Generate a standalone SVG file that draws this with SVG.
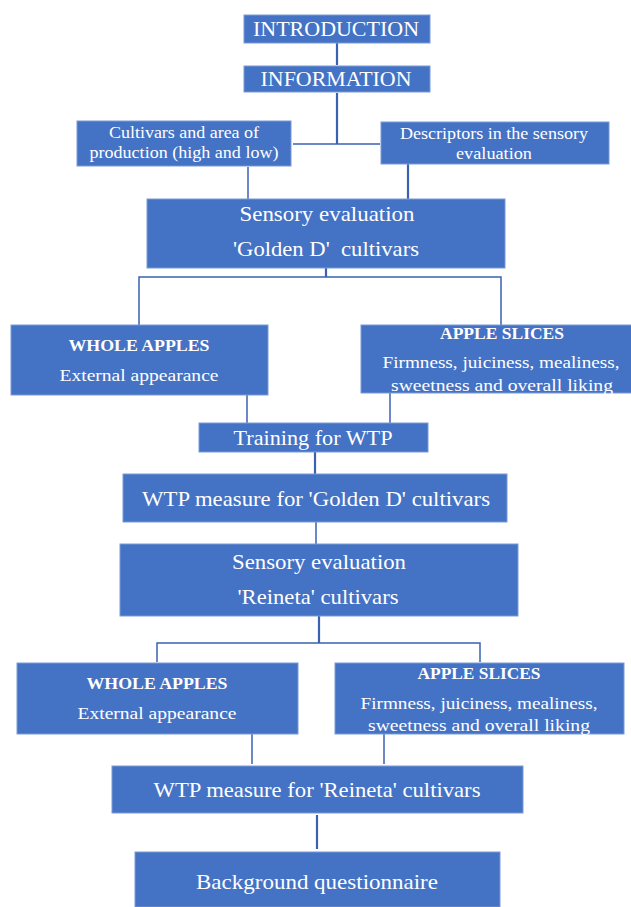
<svg xmlns="http://www.w3.org/2000/svg" width="631" height="907" viewBox="0 0 631 907">
<style>
.box{fill:#4472C4;stroke:#7B9BD6;stroke-width:1}
.t{font-family:"Liberation Serif","Times New Roman",serif;fill:#ffffff;text-anchor:middle}
.l{font-size:22px}
.s{font-size:16.5px}
.b{font-weight:bold}
.c{stroke:#3A62B0;stroke-width:1.5;fill:none}
.c2{stroke:#3A62B0;stroke-width:2.2;fill:none}
</style>
<rect width="631" height="907" fill="#ffffff"/>
<g id="connectors">
<line class="c2" x1="337" y1="43" x2="337" y2="65"/>
<line class="c2" x1="337" y1="93" x2="337" y2="144"/>
<line class="c" x1="293" y1="144" x2="380" y2="144"/>
<line class="c" x1="248" y1="167" x2="248" y2="199"/>
<line class="c2" x1="408" y1="164" x2="408" y2="199"/>
<line class="c2" x1="326" y1="268" x2="326" y2="277"/>
<polyline class="c" points="139,325 139,277 501,277 501,325"/>
<line class="c" x1="247" y1="395" x2="247" y2="423"/>
<line class="c" x1="390" y1="393" x2="390" y2="423"/>
<line class="c2" x1="315" y1="452" x2="315" y2="474"/>
<line class="c" x1="316" y1="522" x2="316" y2="544"/>
<line class="c2" x1="319" y1="616" x2="319" y2="643"/>
<polyline class="c" points="157,662 157,643 480,643 480,662"/>
<line class="c" x1="252" y1="734" x2="252" y2="764"/>
<line class="c" x1="384" y1="734" x2="384" y2="764"/>
<line class="c2" x1="317" y1="815" x2="317" y2="849"/>
</g>
<g id="introduction">
<rect class="box" x="244" y="15" width="186" height="28"/>
<text class="t l" x="336" y="36" textLength="166" lengthAdjust="spacingAndGlyphs">INTRODUCTION</text>
</g>
<g id="information">
<rect class="box" x="244" y="66" width="186" height="26"/>
<text class="t l" x="336" y="86" textLength="151" lengthAdjust="spacingAndGlyphs">INFORMATION</text>
</g>
<g id="cultivars">
<rect class="box" x="77" y="121" width="214" height="45"/>
<text class="t s" x="184" y="138" textLength="150" lengthAdjust="spacingAndGlyphs">Cultivars and area of</text>
<text class="t s" x="184" y="158" textLength="189" lengthAdjust="spacingAndGlyphs">production (high and low)</text>
</g>
<g id="descriptors">
<rect class="box" x="381" y="122" width="228" height="42"/>
<text class="t s" x="494" y="139" textLength="188" lengthAdjust="spacingAndGlyphs">Descriptors in the sensory</text>
<text class="t s" x="494" y="159" textLength="76" lengthAdjust="spacingAndGlyphs">evaluation</text>
</g>
<g id="sensory-golden">
<rect class="box" x="147" y="199" width="358" height="69"/>
<text class="t l" x="327" y="221" textLength="175" lengthAdjust="spacingAndGlyphs">Sensory evaluation</text>
<text class="t l" x="326" y="256" xml:space="preserve" textLength="186" lengthAdjust="spacingAndGlyphs">'Golden D'  cultivars</text>
</g>
<g id="whole-apples-1">
<rect class="box" x="11" y="325" width="257" height="70"/>
<text class="t s b" x="139" y="351" textLength="141" lengthAdjust="spacingAndGlyphs">WHOLE APPLES</text>
<text class="t s" x="139" y="381" textLength="159" lengthAdjust="spacingAndGlyphs">External appearance</text>
</g>
<g id="apple-slices-1">
<rect class="box" x="361" y="325" width="271" height="68"/>
<text class="t s b" x="502" y="339" textLength="124" lengthAdjust="spacingAndGlyphs">APPLE SLICES</text>
<text class="t s" x="501" y="368" textLength="237" lengthAdjust="spacingAndGlyphs">Firmness, juiciness, mealiness,</text>
<text class="t s" x="502" y="391" textLength="222" lengthAdjust="spacingAndGlyphs">sweetness and overall liking</text>
</g>
<g id="training">
<rect class="box" x="199" y="423" width="229" height="29"/>
<text class="t l" x="313" y="445" textLength="159" lengthAdjust="spacingAndGlyphs">Training for WTP</text>
</g>
<g id="wtp-golden">
<rect class="box" x="123" y="474" width="384" height="48"/>
<text class="t l" x="316" y="506" textLength="348" lengthAdjust="spacingAndGlyphs">WTP measure for 'Golden D' cultivars</text>
</g>
<g id="sensory-reineta">
<rect class="box" x="120" y="544" width="398" height="72"/>
<text class="t l" x="319" y="569" textLength="174" lengthAdjust="spacingAndGlyphs">Sensory evaluation</text>
<text class="t l" x="318" y="604" textLength="161" lengthAdjust="spacingAndGlyphs">'Reineta' cultivars</text>
</g>
<g id="whole-apples-2">
<rect class="box" x="17" y="663" width="281" height="71"/>
<text class="t s b" x="157" y="689" textLength="141" lengthAdjust="spacingAndGlyphs">WHOLE APPLES</text>
<text class="t s" x="157" y="719" textLength="159" lengthAdjust="spacingAndGlyphs">External appearance</text>
</g>
<g id="apple-slices-2">
<rect class="box" x="335" y="663" width="289" height="71"/>
<text class="t s b" x="479" y="679" textLength="123" lengthAdjust="spacingAndGlyphs">APPLE SLICES</text>
<text class="t s" x="479" y="709" textLength="237" lengthAdjust="spacingAndGlyphs">Firmness, juiciness, mealiness,</text>
<text class="t s" x="479" y="731" textLength="222" lengthAdjust="spacingAndGlyphs">sweetness and overall liking</text>
</g>
<g id="wtp-reineta">
<rect class="box" x="112" y="766" width="411" height="47"/>
<text class="t l" x="317" y="797" textLength="327" lengthAdjust="spacingAndGlyphs">WTP measure for 'Reineta' cultivars</text>
</g>
<g id="background">
<rect class="box" x="135" y="852" width="365" height="55"/>
<text class="t l" x="317" y="889" textLength="242" lengthAdjust="spacingAndGlyphs">Background questionnaire</text>
</g>
</svg>
